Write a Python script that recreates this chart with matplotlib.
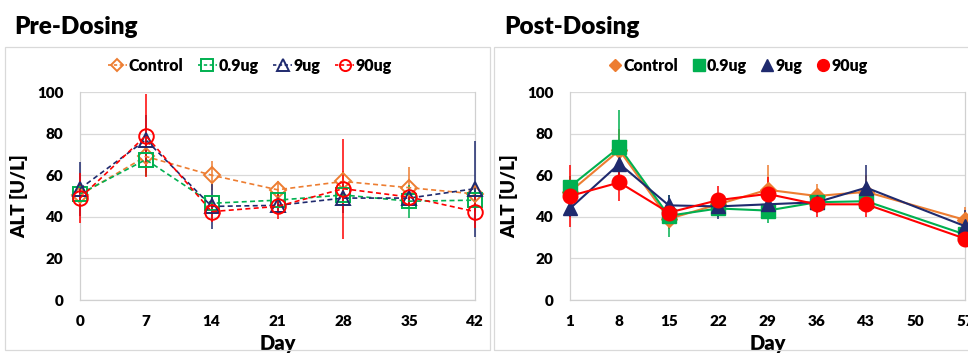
import matplotlib
matplotlib.use("Agg")
import matplotlib.pyplot as plt
from matplotlib.patches import Rectangle
from matplotlib.lines import Line2D

plt.rcParams['font.family'] = ['Lato', 'DejaVu Sans']
plt.rcParams['font.weight'] = 'bold'

groups = ["Control", "0.9ug", "9ug", "90ug"]
colors = ["#ED7D31", "#00B050", "#1F2A6E", "#FF0000"]
markers = ["D", "s", "^", "o"]

pre_days = [0, 7, 14, 21, 28, 35, 42]
pre_mean = {
    "Control": [50.5, 69, 60, 53, 57, 54, 51],
    "0.9ug":   [51, 67.5, 46.5, 48, 50.5, 47.5, 48],
    "9ug":     [53.5, 77, 45, 45.5, 49, 49, 53.5],
    "90ug":    [49, 79, 42.5, 45, 53.5, 49.5, 42.5],
}
pre_sd = {
    "Control": [5, 8, 7, 4, 5, 10, 4],
    "0.9ug":   [4, 8, 4, 4, 4, 8, 5],
    "9ug":     [13, 12, 11, 3, 7, 4, 23],
    "90ug":    [12, 20, 5, 6, 24, 4, 8],
}

post_days = [1, 8, 15, 22, 29, 36, 43, 57]
post_mean = {
    "Control": [52, 72, 39, 46, 53, 50, 52, 38.5],
    "0.9ug":   [54.5, 73.5, 40.5, 44, 43, 47, 47.5, 31.5],
    "9ug":     [44, 65.5, 45.5, 45, 46, 47, 54, 35.5],
    "90ug":    [50, 56.5, 42, 48, 51, 46, 46, 29.5],
}
post_sd = {
    "Control": [5, 10, 5, 5, 12, 6, 8, 6],
    "0.9ug":   [5, 18, 10, 4, 6, 4, 5, 4],
    "9ug":     [4, 8, 5, 6, 5, 5, 11, 8],
    "90ug":    [15, 9, 4, 7, 8, 6, 6, 4],
}

pre_xticks = [0, 7, 14, 21, 28, 35, 42]
post_xticks = [1, 8, 15, 22, 29, 36, 43, 50, 57]
yticks = [0, 20, 40, 60, 80, 100]

W, H = 968, 358
fig = plt.figure(figsize=(W / 100, H / 100), dpi=100)

def fx(p):
    return p / W

def fy(p):
    return 1 - p / H

# panel frames
fig.patches.append(Rectangle((fx(5), fy(350)), fx(485), fy(47) - fy(350),
                             transform=fig.transFigure, fill=False,
                             edgecolor="#D9D9D9", lw=0.9))
fig.patches.append(Rectangle((fx(494), fy(350)), fx(480), fy(47) - fy(350),
                             transform=fig.transFigure, fill=False,
                             edgecolor="#D9D9D9", lw=0.9))

fig.text(fx(14), fy(27), "Pre-Dosing", fontsize=17.5, fontweight="heavy",
         va="center", ha="left")
fig.text(fx(504), fy(27), "Post-Dosing", fontsize=17.5, fontweight="heavy",
         va="center", ha="left")

ax1 = fig.add_axes([fx(80), fy(300), fx(475 - 80), fy(92) - fy(300)])
ax2 = fig.add_axes([fx(570), fy(300), fx(965 - 570), fy(92) - fy(300)])


def style(ax, xt, xlim):
    ax.set_ylim(0, 100)
    ax.set_xlim(*xlim)
    ax.set_yticks(yticks)
    ax.set_xticks(xt)
    ax.grid(axis="y", color="#D9D9D9", lw=0.9)
    ax.set_axisbelow(True)
    ax.spines["top"].set_visible(False)
    for s in ["left", "bottom", "right"]:
        ax.spines[s].set_color("#D0D0D0")
        ax.spines[s].set_linewidth(0.9)
    ax.tick_params(axis="x", length=0, labelsize=11, pad=11)
    ax.tick_params(axis="y", length=0, labelsize=11, pad=12)
    for lab in ax.get_xticklabels() + ax.get_yticklabels():
        lab.set_fontweight("heavy")
    ax.set_xlabel("Day", fontsize=14.5, fontweight="heavy", labelpad=4)
    ax.set_ylabel("ALT [U/L]", fontsize=13.5, fontweight="heavy", labelpad=6)


style(ax1, pre_xticks, (0, 42))
style(ax2, post_xticks, (1, 57))

handles1, handles2 = [], []
for g, c, m in zip(groups, colors, markers):
    ms = 10.5 if m != "D" else 8
    ax1.errorbar(pre_days, pre_mean[g], yerr=pre_sd[g], color=c, lw=1.2,
                 ls=(0, (3, 2)), marker=m, ms=ms, mfc="none", mec=c, mew=1.4,
                 elinewidth=1.1, capsize=0, clip_on=False, zorder=3)
    ax2.errorbar(post_days, post_mean[g], yerr=post_sd[g], color=c, lw=1.5,
                 ls="-", marker=m, ms=ms, mfc=c, mec=c,
                 elinewidth=1.1, capsize=0, clip_on=False, zorder=3)
    handles1.append(Line2D([], [], color=c, ls=(0, (2, 1.5)), lw=1.2, marker=m,
                           ms=8 if m != "D" else 6.5, mfc="none", mec=c, mew=1.4))
    handles2.append(Line2D([], [], color=c, ls="none", marker=m,
                           ms=8.5 if m != "D" else 6.5, mfc=c, mec=c))

leg_kw = dict(ncol=4, frameon=False, handlelength=1.2,
              handletextpad=0.1, columnspacing=0.9, borderaxespad=0,
              prop={"weight": "heavy", "size": 11.5})
fig.legend(handles1, groups, loc="center", bbox_to_anchor=(fx(250), fy(66)), **leg_kw)
leg_kw2 = dict(leg_kw)
leg_kw2["handlelength"] = 0.8
fig.legend(handles2, groups, loc="center", bbox_to_anchor=(fx(738), fy(66)), **leg_kw2)

fig.savefig("out.png", dpi=100)
